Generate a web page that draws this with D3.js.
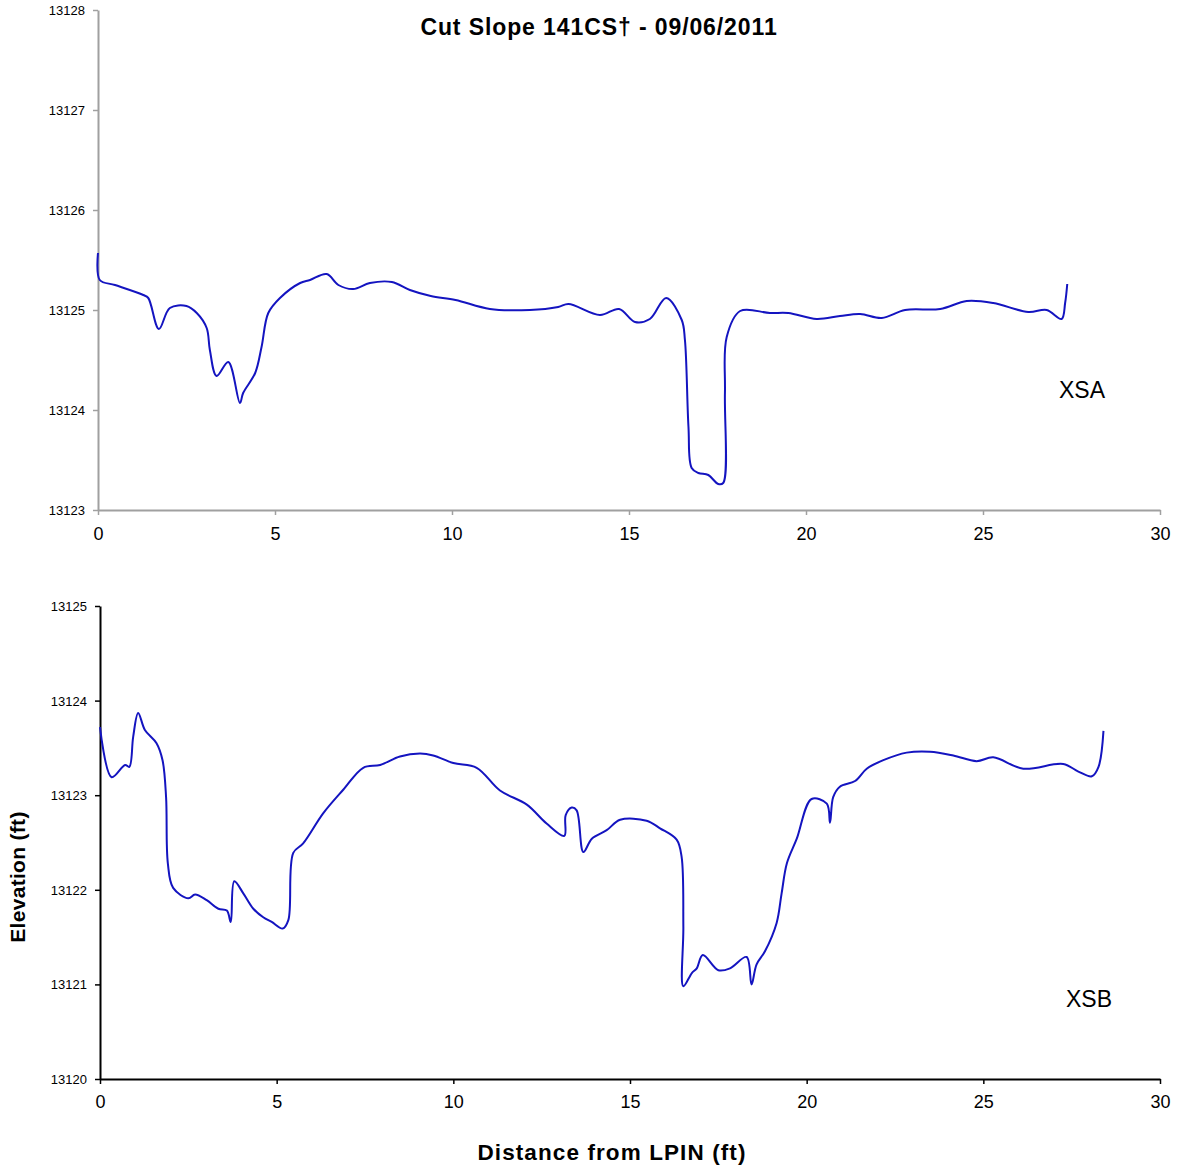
<!DOCTYPE html>
<html><head><meta charset="utf-8">
<script src="https://cdn.jsdelivr.net/npm/d3@7"></script>
<style>body{margin:0;background:#fff}svg{display:block}text{font-family:"Liberation Sans",Arial,sans-serif}</style>
</head><body>
<svg id="c" width="1180" height="1169"></svg>
<script>
// XSA: distance (ft), elevation (ft)
const xsaDist = [0,0.05,0.48,1.28,1.42,1.72,2.03,2.5,2.79,3.07,3.16,3.35,3.68,4.01,4.1,4.44,4.62,4.81,5.14,5.71,5.99,6.46,6.79,7.21,7.68,8.3,8.81,9.4,10.1,11.07,12.2,13.0,13.29,14.18,14.72,15.17,15.59,16.05,16.49,16.58,16.68,16.77,16.96,17.24,17.52,17.66,17.71,17.76,18.14,18.98,19.5,20.3,20.96,21.53,22.14,22.8,23.79,24.54,25.29,26.28,26.8,27.22,27.32,27.38];
const xsaElev = [13125.57,13125.30,13125.25,13125.15,13125.12,13124.81,13125.02,13125.04,13124.97,13124.82,13124.6,13124.34,13124.48,13124.07,13124.17,13124.37,13124.63,13124.97,13125.12,13125.27,13125.30,13125.36,13125.25,13125.21,13125.27,13125.28,13125.2,13125.14,13125.1,13125.01,13125.0,13125.03,13125.06,13124.95,13125.01,13124.88,13124.91,13125.12,13124.9,13124.7,13123.83,13123.42,13123.37,13123.35,13123.26,13123.27,13124.17,13124.73,13124.99,13124.97,13124.97,13124.91,13124.94,13124.96,13124.92,13125.0,13125.01,13125.09,13125.07,13124.98,13125.0,13124.91,13125.07,13125.26];
// XSB
const xsbDist = [0,0.33,0.71,0.83,0.94,1.08,1.27,1.6,1.77,1.87,1.92,2.07,2.5,2.69,3.02,3.35,3.59,3.7,3.8,4.06,4.34,4.62,4.86,5.17,5.33,5.47,5.75,6.32,6.89,7.45,7.93,8.49,9.06,9.43,10.0,10.66,11.32,12.08,12.64,13.14,13.18,13.35,13.49,13.68,13.92,14.34,14.72,15.47,15.85,16.32,16.46,16.51,16.51,16.75,16.89,17.06,17.5,17.83,18.3,18.44,18.58,18.82,19.15,19.29,19.44,19.72,20.14,20.57,20.66,20.75,20.94,21.37,21.7,22.17,22.83,23.49,24.15,24.81,25.28,26.13,27.26,27.69,28.07,28.26,28.4];
const xsbElev = [13123.72,13123.19,13123.32,13123.30,13123.62,13123.87,13123.69,13123.55,13123.37,13122.98,13122.28,13122.02,13121.91,13121.95,13121.89,13121.80,13121.78,13121.66,13122.09,13121.96,13121.80,13121.71,13121.66,13121.59,13121.68,13122.39,13122.49,13122.81,13123.06,13123.29,13123.32,13123.41,13123.44,13123.42,13123.34,13123.29,13123.05,13122.90,13122.70,13122.57,13122.79,13122.87,13122.84,13122.40,13122.54,13122.63,13122.74,13122.73,13122.65,13122.53,13122.35,13121.61,13120.98,13121.12,13121.17,13121.31,13121.15,13121.17,13121.29,13121.0,13121.21,13121.35,13121.65,13121.96,13122.28,13122.54,13122.96,13122.91,13122.71,13122.98,13123.09,13123.15,13123.28,13123.37,13123.45,13123.46,13123.42,13123.36,13123.40,13123.28,13123.33,13123.25,13123.20,13123.30,13123.68];
const xTicks = [0,5,10,15,20,25,30];
const yTicksA = [13123,13124,13125,13126,13127,13128];
const yTicksB = [13120,13121,13122,13123,13124,13125];
const title = "Cut Slope 141CS\u2020 - 09/06/2011";

const svg = d3.select("#c");
svg.append("rect").attr("width",1180).attr("height",1169).attr("fill","#fff");

function panel(dist, elev, yTicks, cfg){
  const x = d3.scaleLinear().domain([0,30]).range([cfg.x0, 1160]);
  const y = d3.scaleLinear().domain([yTicks[0], yTicks[yTicks.length-1]]).range([cfg.yb, cfg.yt]);
  const g = svg.append("g");
  const xa = g.append("g").attr("transform",`translate(0,${cfg.yb})`)
    .call(d3.axisBottom(x).tickValues(xTicks).tickFormat(d3.format("d")).tickSize(5).tickSizeOuter(0));
  const ya = g.append("g").attr("transform",`translate(${cfg.x0},0)`)
    .call(d3.axisLeft(y).tickValues(yTicks).tickFormat(d3.format("d")).tickSize(5).tickSizeOuter(0));
  [xa,ya].forEach(a=>{
    a.select(".domain").attr("stroke",cfg.axisColor).attr("stroke-width",2);
    a.selectAll(".tick line").attr("stroke",cfg.axisColor).attr("stroke-width",1.5);
  });
  xa.selectAll("text").attr("font-size",18).attr("fill","#000").attr("dy","0.95em").attr("y",cfg.xly);
  ya.selectAll("text").attr("font-size",13).attr("fill","#000").attr("x",-13).attr("dy","0.35em");
  const pts = dist.map((d,i)=>[d, elev[i]]);
  g.append("path").datum(pts)
    .attr("fill","none").attr("stroke","#1414c0").attr("stroke-width",2)
    .attr("d", d3.line().x(d=>x(d[0])).y(d=>y(d[1])).curve(d3.curveCatmullRom.alpha(0.5)));
  g.append("text").attr("x",cfg.lx).attr("y",cfg.ly).attr("font-size",23).attr("text-anchor","middle").text(cfg.label);
}

panel(xsaDist, xsaElev, yTicksA, {x0:98, yt:10, yb:510, axisColor:"#a0a0a0", label:"XSA", lx:1082, ly:398, xly:13});
panel(xsbDist, xsbElev, yTicksB, {x0:100, yt:606, yb:1079, axisColor:"#000", label:"XSB", lx:1089, ly:1007, xly:12});

svg.append("text").attr("x",599).attr("y",35).attr("text-anchor","middle").attr("font-size",23).attr("letter-spacing",0.9).attr("font-weight","bold").text(title);
svg.append("text").attr("transform","translate(25,877) rotate(-90)").attr("text-anchor","middle").attr("font-size",21).attr("letter-spacing",0.3).attr("font-weight","bold").text("Elevation (ft)");
svg.append("text").attr("x",612).attr("y",1160).attr("text-anchor","middle").attr("font-size",22.5).attr("letter-spacing",1.1).attr("font-weight","bold").text("Distance from LPIN (ft)");
</script>
</body></html>
